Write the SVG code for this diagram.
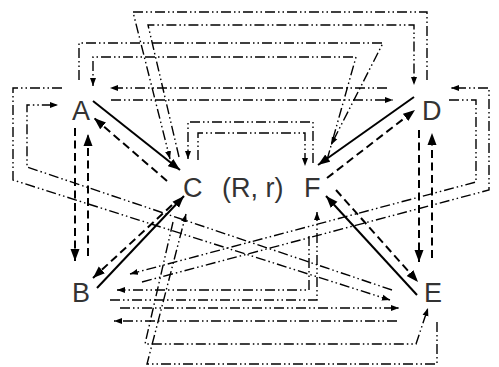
<svg xmlns="http://www.w3.org/2000/svg" width="499" height="367" viewBox="0 0 499 367">
<defs>
<marker id="ab" markerUnits="userSpaceOnUse" markerWidth="13" markerHeight="10" refX="12" refY="5" orient="auto"><path d="M0,0.5 L12,5 L0,9.5 z" fill="#000"/></marker>
<marker id="as" markerUnits="userSpaceOnUse" markerWidth="9" markerHeight="7" refX="8" refY="3.5" orient="auto"><path d="M0,0.5 L8,3.5 L0,6.5 z" fill="#000"/></marker>
</defs>
<style>
.n{font-family:"Liberation Sans",Arial,sans-serif;font-size:27px;fill:#333}
.s{fill:none;stroke:#000;stroke-width:2}
.d{fill:none;stroke:#000;stroke-width:2;stroke-dasharray:8 4.5}
.dd{fill:none;stroke:#000;stroke-width:1.4;stroke-dasharray:10 3 1.5 3 1.5 3}
.s,.d{marker-end:url(#ab)}
.dd{marker-end:url(#as)}
</style>
<rect width="499" height="367" fill="#fff"/>
<g id="connectors">
<path class="s" d="M93,101 L180,170"/>
<path class="s" d="M97,288 L184,196"/>
<path class="s" d="M414,97 L318,165"/>
<path class="s" d="M417,295 L326,196"/>
<path class="d" d="M167,181 L94,118"/>
<path class="d" d="M172,205 L93,278"/>
<path class="d" d="M327,178 L415,110"/>
<path class="d" d="M336,190 L418,282"/>
<path class="d" d="M75,128 L75,261"/>
<path class="d" d="M88,256 L88,134"/>
<path class="d" d="M419,130 L419,262"/>
<path class="d" d="M432,258 L432,133"/>
<path class="dd" d="M387,88 L110,88"/>
<path class="dd" d="M111,100 L393,100"/>
<path class="dd" d="M62,88 L13,88 L13,180 L390,300"/>
<path class="dd" d="M392,290 L27,167 L27,105 L58,105"/>
<path class="dd" d="M449,100 L476,100 L476,182 L130,274"/>
<path class="dd" d="M142,282 L489,190 L489,88 L451,88"/>
<path class="dd" d="M427,80 L427,12 L133,12 L170,159"/>
<path class="dd" d="M179,157 L148,25 L414,25 L414,85"/>
<path class="dd" d="M79,80 L79,43 L383,43 L331,145"/>
<path class="dd" d="M327,160 L356,57 L93,57 L93,86"/>
<path class="dd" d="M313,163 L313,122 L188,122 L188,159"/>
<path class="dd" d="M198,160 L198,133 L305,133 L305,166"/>
<path class="dd" d="M309,236 L309,290 L117,290"/>
<path class="dd" d="M110,300 L317,300 L317,212"/>
<path class="dd" d="M120,308 L399,308"/>
<path class="dd" d="M397,321 L114,321"/>
<path class="dd" d="M173,222 L145,344 L416,344 L428,308"/>
<path class="dd" d="M437,322 L437,364 L147,364 L186,214"/>
</g>
<g id="node-A"><text class="n" x="72" y="120">A</text></g>
<g id="node-B"><text class="n" x="72" y="302">B</text></g>
<g id="node-C"><text class="n" x="183" y="197">C</text></g>
<g id="label-Rr"><text class="n" x="222" y="197">(R, r)</text></g>
<g id="node-F"><text class="n" x="304" y="197">F</text></g>
<g id="node-D"><text class="n" x="422" y="120">D</text></g>
<g id="node-E"><text class="n" x="424" y="302">E</text></g>
</svg>
